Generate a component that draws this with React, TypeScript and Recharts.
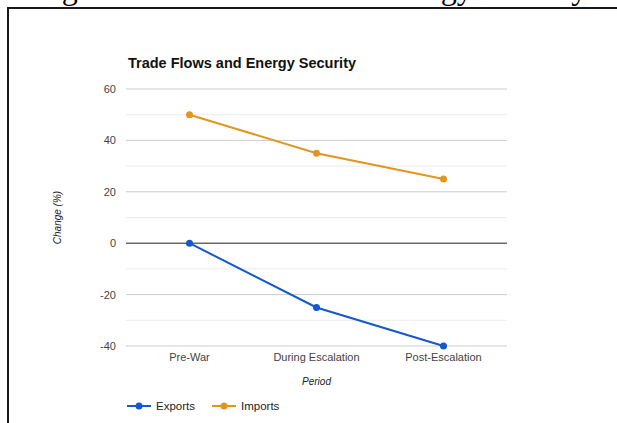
import { LineChart, Line, XAxis, YAxis, CartesianGrid, ReferenceLine, Legend, Label } from "recharts"

const periods = ["Pre-War", "During Escalation", "Post-Escalation"]
const exportsChange = [0, -25, -40]
const importsChange = [50, 35, 25]
const yTicks = [-40, -20, 0, 20, 40, 60]
const minorTicks = [-30, -10, 10, 30, 50]

const EXPORTS_COLOR = "#1557cc"
const IMPORTS_COLOR = "#e3951f"
const FONT = "Arial, 'Liberation Sans', sans-serif"

const data = periods.map((period, i) => ({
  period,
  Exports: exportsChange[i],
  Imports: importsChange[i],
}))

const series = [
  { key: "Exports", color: EXPORTS_COLOR },
  { key: "Imports", color: IMPORTS_COLOR },
]

function YTitle({ viewBox }: any) {
  const cx = viewBox.x + 11
  const cy = viewBox.y + viewBox.height / 2
  return (
    <text
      x={cx}
      y={cy}
      transform={`rotate(-90, ${cx}, ${cy})`}
      textAnchor="middle"
      dominantBaseline="central"
      fontSize={10}
      fontStyle="italic"
      fill="#222"
      fontFamily={FONT}
    >
      Change (%)
    </text>
  )
}

function LegendContent() {
  return (
    <div style={{ display: "flex", height: 20, alignItems: "center", paddingLeft: 81, fontFamily: FONT, fontSize: 11.5, color: "#222" }}>
      {series.map((s) => (
        <div key={s.key} style={{ display: "flex", alignItems: "center", marginRight: 17 }}>
          <svg width={24} height={10} style={{ marginRight: 5 }}>
            <line x1={0} y1={5} x2={24} y2={5} stroke={s.color} strokeWidth={2} />
            <circle cx={12} cy={5} r={3.5} fill={s.color} />
          </svg>
          <span>{s.key}</span>
        </div>
      ))}
    </div>
  )
}

export default function App() {
  return (
    <div>
      <style>{`body{overflow:hidden}`}</style>
      <div
        style={{
          position: "absolute",
          left: 35,
          top: -30,
          margin: 0,
          fontSize: 32,
          fontFamily: "'Liberation Serif', 'Times New Roman', serif",
          whiteSpace: "nowrap",
          color: "#000",
        }}
      >
        Figure 5: Trade Flows and Energy Security
      </div>
      <div
        style={{
          position: "absolute",
          left: 7,
          top: 7,
          width: 610,
          height: 416,
          boxSizing: "border-box",
          borderLeft: "2px solid #1a1a1a",
          borderTop: "2px solid #1a1a1a",
          background: "#fff",
        }}
      >
        <div
          style={{
            position: "absolute",
            left: 119,
            top: 45,
            fontFamily: FONT,
            fontSize: 14.5,
            fontWeight: "bold",
            lineHeight: "18px",
            color: "#111",
          }}
        >
          Trade Flows and Energy Security
        </div>
        <LineChart width={608} height={414} data={data} margin={{ top: 80, right: 110, left: 37, bottom: 7 }}>
          <CartesianGrid vertical={false} stroke="#cccccc" />
          {minorTicks.map((v) => (
            <ReferenceLine key={v} y={v} stroke="#ebebeb" />
          ))}
          <ReferenceLine y={0} stroke="#333" />
          <XAxis
            dataKey="period"
            axisLine={false}
            tickLine={false}
            tickSize={0}
            tickMargin={7}
            height={50}
            padding={{ left: 63.5, right: 63.5 }}
            tick={{ fontSize: 11, fill: "#444", fontFamily: FONT }}
          >
            <Label value="Period" position="insideBottom" offset={11} fontSize={10} fontStyle="italic" fill="#222" fontFamily={FONT} />
          </XAxis>
          <YAxis
            domain={[-40, 60]}
            ticks={yTicks}
            axisLine={false}
            tickLine={false}
            tickSize={0}
            tickMargin={10}
            width={80}
            tick={{ fontSize: 11, fill: "#444", fontFamily: FONT }}
          >
            <Label content={<YTitle />} />
          </YAxis>
          <Legend verticalAlign="bottom" align="left" content={<LegendContent />} />
          {series.map((s) => (
            <Line
              key={s.key}
              dataKey={s.key}
              stroke={s.color}
              strokeWidth={2}
              dot={{ r: 3.5, fill: s.color, stroke: s.color, strokeWidth: 0 }}
              activeDot={false}
              isAnimationActive={false}
            />
          ))}
        </LineChart>
      </div>
    </div>
  )
}
